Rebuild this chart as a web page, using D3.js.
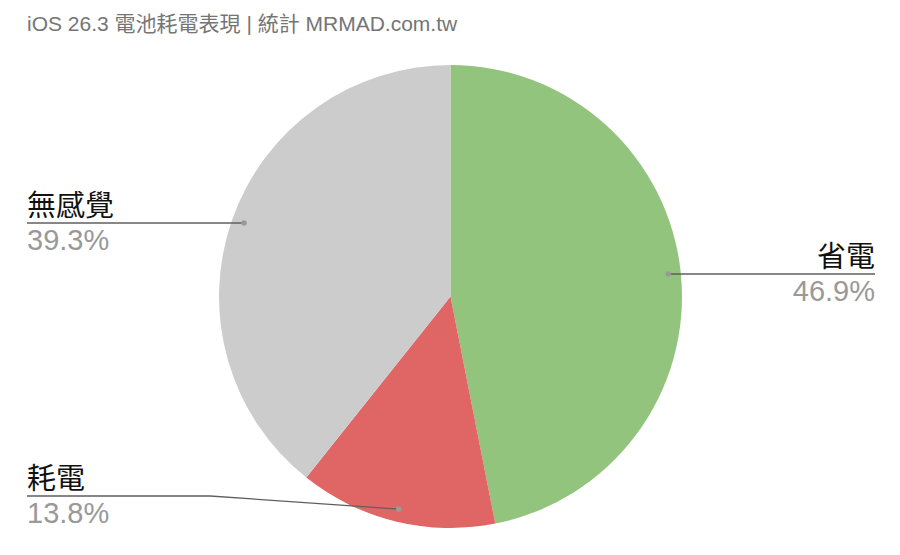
<!DOCTYPE html>
<html>
<head>
<meta charset="utf-8">
<script src="https://cdn.jsdelivr.net/npm/d3@7"></script>
<style>
  body { margin: 0; background: #fff; }
  text { font-family: "Liberation Sans", Arial, "Noto Sans CJK TC", sans-serif; }
</style>
</head>
<body>
<div id="chart"></div>
<script>
// datos del gráfico
const categories = ["省電", "耗電", "無感覺"];
const values = [46.9, 13.8, 39.3];
const labels = ["46.9%", "13.8%", "39.3%"];
const colors = ["#93c47d", "#e06666", "#cccccc"];
const title = "iOS 26.3 電池耗電表現 | 統計 MRMAD.com.tw";

const width = 900, height = 555;
const cx = 450.5, cy = 296.5, radius = 231.5;

const svg = d3.select("#chart").append("svg")
    .attr("width", width)
    .attr("height", height);

svg.append("rect").attr("width", width).attr("height", height).attr("fill", "white");

svg.append("text")
    .attr("x", 27).attr("y", 31)
    .attr("fill", "#757575")
    .style("font-size", "21px")
    .text(title);

const data = categories.map((c, i) => ({ name: c, value: values[i], label: labels[i], color: colors[i] }));

const pie = d3.pie().sort(null).value(d => d.value);
const arc = d3.arc().innerRadius(0).outerRadius(radius);
const arcs = pie(data);

const g = svg.append("g").attr("transform", `translate(${cx},${cy})`);

g.selectAll("path").data(arcs).enter().append("path")
    .attr("d", arc)
    .attr("fill", d => d.data.color);

// posición de las etiquetas (lado, altura de la línea)
const labelPos = [
    { side: "right", x: 875, y: 274 },
    { side: "left", x: 27, y: 496, bend: 210 },
    { side: "left", x: 27, y: 223 }
];

const dotArc = d3.arc().innerRadius(radius * 0.945).outerRadius(radius * 0.945);

arcs.forEach((a, i) => {
    const p = labelPos[i];
    const c = dotArc.centroid(a);
    const dx = cx + c[0], dy = cy + c[1];
    let pts;
    if (p.bend) {
        pts = [[p.x, p.y], [p.bend, p.y], [dx, dy]];
    } else {
        pts = [[p.x, p.y], [dx, p.y]];
    }
    svg.append("path")
        .attr("d", d3.line()(pts))
        .attr("fill", "none")
        .attr("stroke", "#5f5f5f")
        .attr("stroke-width", 1.3);
    svg.append("circle")
        .attr("cx", dx).attr("cy", p.bend ? dy : p.y)
        .attr("r", 2.8)
        .attr("fill", "#999");
    const anchor = p.side === "right" ? "end" : "start";
    svg.append("text")
        .attr("x", p.x).attr("y", p.y - 7)
        .attr("text-anchor", anchor)
        .attr("fill", "#111")
        .style("font-size", "29px")
        .text(a.data.name);
    svg.append("text")
        .attr("x", p.x).attr("y", p.y + 26.5)
        .attr("text-anchor", anchor)
        .attr("fill", "#999")
        .style("font-size", "29px")
        .text(a.data.label);
});
</script>
</body>
</html>
